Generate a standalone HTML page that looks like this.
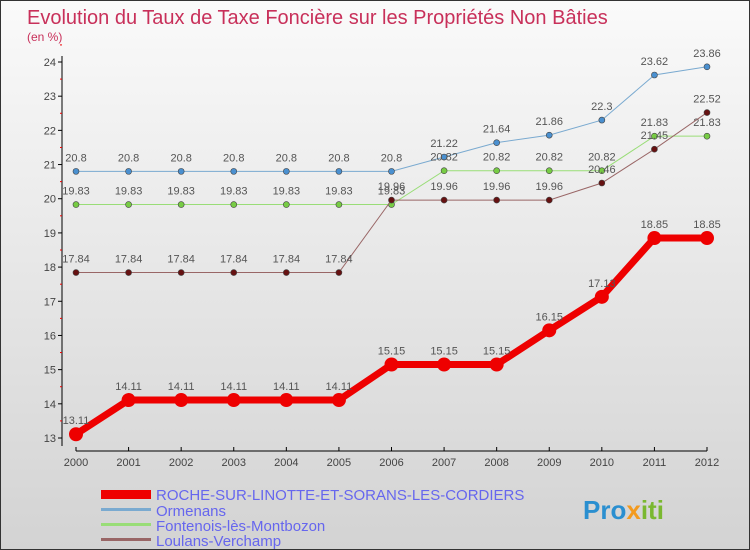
<!DOCTYPE html>
<html><head><meta charset="utf-8"><style>
body{margin:0}
#c{width:750px;height:550px;position:relative;background:linear-gradient(#fafafa,#d3d3d3);border:1px solid #333;box-sizing:border-box;overflow:hidden;font-family:"Liberation Sans",sans-serif}
</style></head><body>
<div id="c">
<svg id="s" width="750" height="550">
<text x="26" y="23" font-size="20" fill="#c8305a">Evolution du Taux de Taxe Foncière sur les Propriétés Non Bâties</text>
<text x="26" y="40" font-size="12" fill="#c8305a">(en %)</text>
<g id="axes"></g><g id="series"></g>
<g>
<rect x="100" y="489" width="50" height="9" fill="#e00"/>
<text x="155" y="499" font-size="15" fill="#6666ee">ROCHE-SUR-LINOTTE-ET-SORANS-LES-CORDIERS</text>
<rect x="100" y="507" width="50" height="3" fill="#7aaad0"/>
<text x="155" y="515" font-size="15" fill="#6666ee">Ormenans</text>
<rect x="100" y="522" width="50" height="3" fill="#99dd77"/>
<text x="155" y="530" font-size="15" fill="#6666ee">Fontenois-lès-Montbozon</text>
<rect x="100" y="537" width="50" height="3" fill="#996666"/>
<text x="155" y="545" font-size="15" fill="#6666ee">Loulans-Verchamp</text>
</g>
<text x="582" y="518" font-size="26" font-weight="bold" fill="#2a8fd0">Pro<tspan fill="#f39a1e">x</tspan><tspan fill="#7ab830">iti</tspan></text>
</svg></div>
<script>
const years=[2000,2001,2002,2003,2004,2005,2006,2007,2008,2009,2010,2011,2012];
const roche=[13.11,14.11,14.11,14.11,14.11,14.11,15.15,15.15,15.15,16.15,17.13,18.85,18.85];
const ormenans=[20.8,20.8,20.8,20.8,20.8,20.8,20.8,21.22,21.64,21.86,22.3,23.62,23.86];
const fontenois=[19.83,19.83,19.83,19.83,19.83,19.83,19.83,20.82,20.82,20.82,20.82,21.83,21.83];
const loulans=[17.84,17.84,17.84,17.84,17.84,17.84,19.96,19.96,19.96,19.96,20.46,21.45,22.52];
const yTicks=[13,14,15,16,17,18,19,20,21,22,23,24];
const ns="http://www.w3.org/2000/svg";
const X=i=>75+i*(706-75)/12, Y=v=>437-(v-13)*(437-61)/11;
function mk(t,a,p){const e=document.createElementNS(ns,t);for(const k in a)e.setAttribute(k,a[k]);p.appendChild(e);return e;}
const ax=document.getElementById('axes');
let e=mk('line',{x1:61,y1:55,x2:61,y2:445,stroke:'#000'},ax);


e=mk('line',{x1:75,y1:450,x2:706,y2:450,stroke:'#000'},ax);


yTicks.forEach(v=>{mk('line',{x1:57,x2:61,y1:Y(v),y2:Y(v),stroke:'#000'},ax);
mk('line',{x1:59,x2:61,y1:Y(v+0.5),y2:Y(v+0.5),stroke:'#e00'},ax);
const t=mk('text',{x:55,y:Y(v)+4,'font-size':11,fill:'#444','text-anchor':'end'},ax);t.textContent=v;

});
years.forEach((y,i)=>{mk('line',{x1:X(i),x2:X(i),y1:446,y2:450,stroke:'#000'},ax);
const t=mk('text',{x:X(i),y:465,'font-size':11,fill:'#444','text-anchor':'middle'},ax);t.textContent=y;

});
const sg=document.getElementById('series');
function draw(vals,name,col,dot,w,r){
const g=mk('g',{},sg);


mk('polyline',{points:vals.map((v,i)=>X(i)+','+Y(v)).join(' '),fill:'none',stroke:col,'stroke-width':w},g);
vals.forEach((v,i)=>{const c=mk('circle',{cx:X(i),cy:Y(v),r:r,fill:dot,stroke:'#444','stroke-width':r>4?0:0.6},g);


const t=mk('text',{x:X(i),y:Y(v)-10,'font-size':11,fill:'#555','text-anchor':'middle'},g);t.textContent=v;

});}
draw(ormenans,'ormenans','#7aaad0','#4a90d0',1,3);
draw(fontenois,'fontenois','#99dd77','#77cc44',1,3);
draw(loulans,'loulans','#996666','#661111',1,3);
draw(roche,'roche','#e00','#e00',7,7);
</script></body></html>
